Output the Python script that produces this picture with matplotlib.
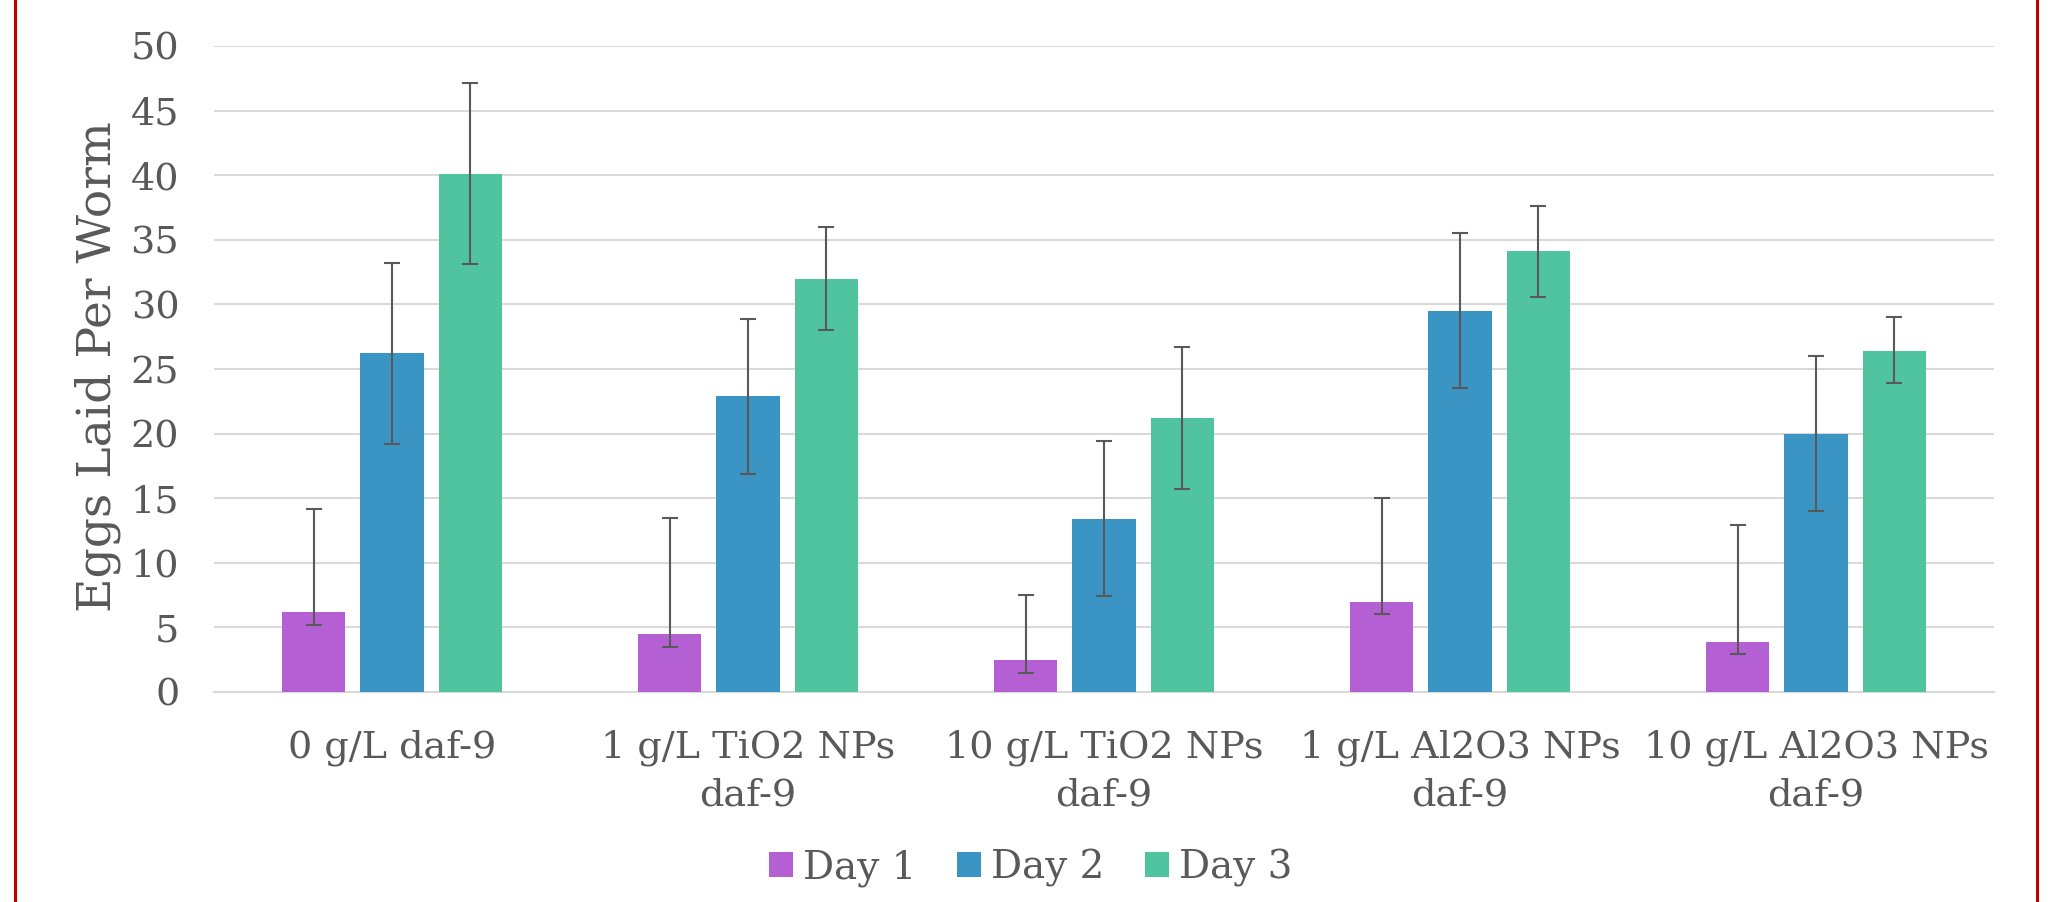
import matplotlib
matplotlib.use('Agg')
from matplotlib import pyplot as plt
from matplotlib.lines import Line2D
import numpy as np

categories = ['0 g/L daf-9', '1 g/L TiO2 NPs\ndaf-9', '10 g/L TiO2 NPs\ndaf-9',
              '1 g/L Al2O3 NPs\ndaf-9', '10 g/L Al2O3 NPs\ndaf-9']
series = ['Day 1', 'Day 2', 'Day 3']

day1 = [6.2, 4.5, 2.5, 7.0, 3.9]
day1_minus = [1.0, 1.0, 1.0, 1.0, 0.95]
day1_plus = [8.0, 9.0, 5.0, 8.0, 9.05]

day2 = [26.2, 22.9, 13.4, 29.5, 20.0]
day2_minus = [7.0, 6.0, 6.0, 6.0, 6.0]
day2_plus = [7.0, 6.0, 6.0, 6.0, 6.0]

day3 = [40.1, 32.0, 21.2, 34.1, 26.4]
day3_minus = [7.0, 4.0, 5.5, 3.5, 2.5]
day3_plus = [7.0, 4.0, 5.5, 3.5, 2.6]

colors = ['#B460D4', '#3A95C4', '#50C49F']
text_color = '#595959'
grid_color = '#D9D9D9'

plt.rcParams['font.family'] = ['DejaVu Serif']

fig = plt.figure(figsize=(20.56, 9.02), dpi=100)
ax = fig.add_axes([214 / 2056, 1 - 692 / 902, 1780 / 2056, 646 / 902])

x = np.arange(len(categories))
bar_w = 0.177
offset = 0.22

values = [day1, day2, day3]
minus = [day1_minus, day2_minus, day3_minus]
plus = [day1_plus, day2_plus, day3_plus]

handles = []
for k in range(3):
    pos = x + (k - 1) * offset
    b = ax.bar(pos, values[k], bar_w, color=colors[k], zorder=3, label=series[k])
    handles.append(b)
    ax.errorbar(pos, values[k], yerr=[minus[k], plus[k]], fmt='none',
                ecolor='#595959', elinewidth=1.5, capsize=6, capthick=1.5, zorder=4)

ax.set_xlim(-0.5, 4.5)
ax.set_ylim(0, 50)
ax.set_yticks(np.arange(0, 51, 5))
ax.yaxis.grid(True, color=grid_color, linewidth=1.5, zorder=0)
ax.set_axisbelow(True)
for s in ['top', 'right', 'left']:
    ax.spines[s].set_visible(False)
ax.spines['bottom'].set_color(grid_color)
ax.spines['bottom'].set_linewidth(1.5)

ax.set_xticks(x)
ax.set_xticklabels(categories, fontsize=27.5, color=text_color, linespacing=1.4)
ax.tick_params(axis='x', length=0, pad=27)
ax.tick_params(axis='y', length=0, pad=25, labelsize=27.5, labelcolor=text_color)

fig.text(98 / 2056, 1 - 367 / 902, 'Eggs Laid Per Worm', rotation=90,
         ha='center', va='center', fontsize=34, color=text_color)

leg = fig.legend(handles=handles, labels=series, loc='center', ncol=3,
                 bbox_to_anchor=(1031 / 2056, 1 - 868 / 902), frameon=False,
                 fontsize=28, handlelength=0.6, handleheight=0.6,
                 handletextpad=0.27, columnspacing=1.05)
for t in leg.get_texts():
    t.set_color(text_color)

# red frame edges
for xe in [15 / 2056, 2037 / 2056]:
    fig.add_artist(Line2D([xe, xe], [0, 1], transform=fig.transFigure,
                          color='#C00000', linewidth=2.2))

fig.savefig('out.png', dpi=100, facecolor='white')
